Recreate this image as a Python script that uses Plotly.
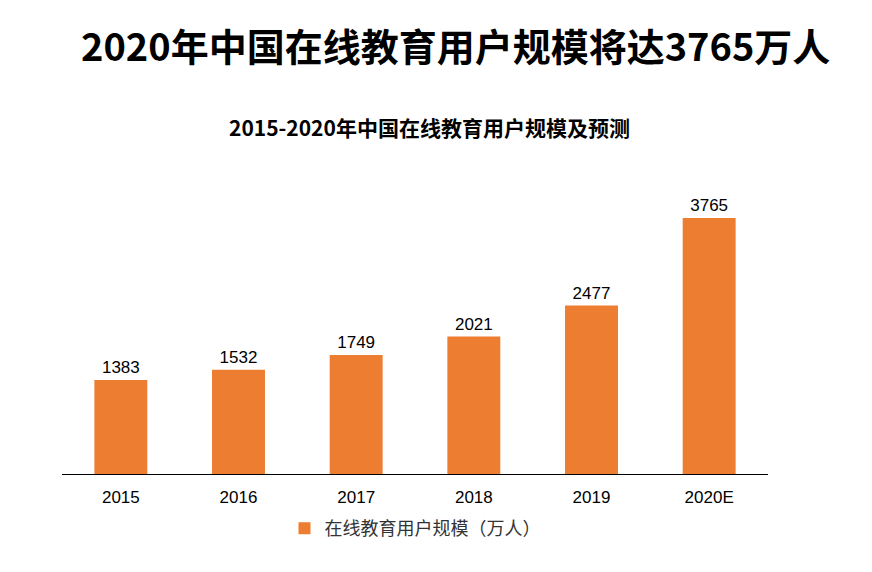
import plotly.graph_objects as go

categories = ["2015", "2016", "2017", "2018", "2019", "2020E"]
values = [1383, 1532, 1749, 2021, 2477, 3765]
series_name = "在线教育用户规模（万人）"
title_text = "2020年中国在线教育用户规模将达3765万人"
subtitle_text = "2015-2020年中国在线教育用户规模及预测"

fig = go.Figure()
fig.add_trace(go.Bar(
    x=categories, y=values, name=series_name,
    marker=dict(color="#ED7D31", line=dict(width=0)),
    text=[str(v) for v in values], textposition="outside",
    textfont=dict(family="Liberation Sans, Arial", size=17, color="#000000"),
    cliponaxis=False,
))

fig.update_layout(
    width=872, height=572,
    paper_bgcolor="white", plot_bgcolor="white",
    margin=dict(l=62, r=104, t=160, b=98),
    bargap=0.55,
    showlegend=True,
    legend=dict(orientation="h", x=0.5, xanchor="center", y=-0.115, yanchor="top",
                font=dict(family="Noto Sans CJK SC", size=18, color="#333333"),
                itemwidth=30),
    xaxis=dict(showline=True, linecolor="#000000", linewidth=1, ticks="",
               ticklabelstandoff=8,
               tickfont=dict(family="Liberation Sans, Arial", size=17, color="#000000"),
               showgrid=False),
    yaxis=dict(visible=False, range=[0, 4618], showgrid=False, zeroline=False),
    annotations=[
        dict(text="<b>" + title_text + "</b>", xref="paper", yref="paper",
             x=0.5, y=1, xanchor="center", yanchor="middle", yshift=116, xshift=40,
             showarrow=False, font=dict(family="Noto Sans CJK SC", size=38, color="#000000")),
        dict(text="<b>" + subtitle_text + "</b>", xref="paper", yref="paper",
             x=0.5, y=1, xanchor="center", yshift=33, xshift=14,
             yanchor="middle",
             showarrow=False, font=dict(family="Noto Sans CJK SC", size=21, color="#000000")),
    ],
)

fig.write_html("out.html")
